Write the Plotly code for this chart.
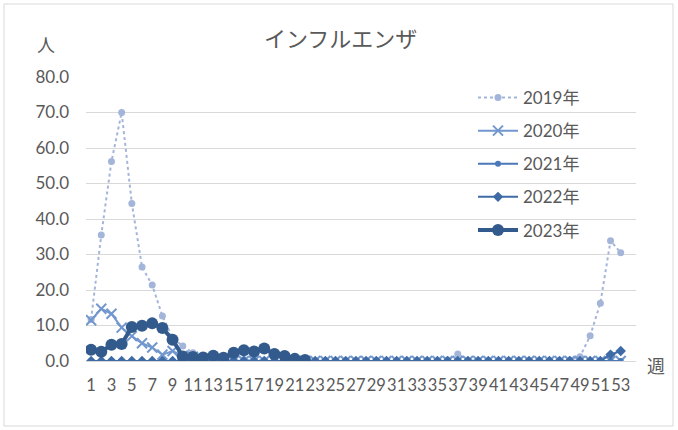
import plotly.graph_objects as go

weeks = list(range(1, 54))

v2019 = [11.7, 35.5, 56.2, 70.0, 44.4, 26.5, 21.4, 12.7, 6.5, 4.2,
         2.3, 1.0, 0.5, 0.6, 2.6, 0.4, 0.2, 0.1, 0.1, 0.1,
         0.0, 0.1, 0.0, 0.0, 0.0, 0.0, 0.0, 0.0, 0.0, 0.0,
         0.0, 0.0, 0.0, 0.0, 0.0, 0.3, 2.0, 0.2, 0.0, 0.0,
         0.0, 0.0, 0.0, 0.0, 0.0, 0.0, 0.1, 0.3, 1.2, 7.1,
         16.3, 33.9, 30.5]
v2020 = [11.5, 14.7, 13.3, 9.4, 7.0, 5.0, 3.8, 1.8, 2.8, 1.5,
         1.2, 0.3, 0.2, 0.1, 0.0, 0.0, 0.0, 0.0, 0.0, 0.0,
         0.0, 0.0, 0.0, 0.0, 0.0, 0.0, 0.0, 0.0, 0.0, 0.0,
         0.0, 0.0, 0.0, 0.0, 0.0, 0.0, 0.0, 0.0, 0.0, 0.0,
         0.0, 0.0, 0.0, 0.0, 0.0, 0.0, 0.0, 0.0, 0.0, 0.0,
         0.0, 0.0, 0.0]
v2021 = [0.0, 0.0, 0.0, 0.0, 0.0, 0.0, 0.0, 0.0, 0.0, 0.0,
         0.0, 0.0, 0.0, 0.0, 0.0, 0.0, 0.0, 0.0, 0.0, 0.0,
         0.0, 0.0, 0.0, 0.0, 0.0, 0.0, 0.0, 0.0, 0.0, 0.0,
         0.0, 0.0, 0.0, 0.0, 0.0, 0.0, 0.0, 0.0, 0.0, 0.0,
         0.0, 0.0, 0.0, 0.0, 0.0, 0.0, 0.0, 0.0, 0.0, 0.0,
         0.0, 0.0, 0.0]
v2022 = [0.0, 0.0, 0.0, 0.0, 0.0, 0.0, 0.0, 0.0, 0.0, 0.0,
         0.0, 0.0, 0.0, 0.0, 0.0, 0.0, 0.0, 0.0, 0.0, 0.0,
         0.0, 0.0, 0.0, 0.0, 0.0, 0.0, 0.0, 0.0, 0.0, 0.0,
         0.0, 0.0, 0.0, 0.0, 0.0, 0.0, 0.0, 0.0, 0.0, 0.0,
         0.0, 0.0, 0.0, 0.0, 0.0, 0.0, 0.0, 0.0, 0.0, 0.0,
         0.0, 1.8, 2.8]
v2023 = [3.2, 2.6, 4.6, 4.8, 9.6, 9.9, 10.6, 9.3, 6.0, 1.3,
         1.1, 1.0, 1.5, 0.9, 2.3, 3.0, 2.7, 3.5, 2.0, 1.4,
         0.6, 0.3]

x_ticks = list(range(1, 54, 2))
y_ticks = [0, 10, 20, 30, 40, 50, 60, 70, 80]

FONT = "Lato, 'Noto Sans CJK JP', sans-serif"
GRAY = "#595959"

fig = go.Figure()
fig.add_trace(go.Scatter(x=weeks, y=v2019, name="2019年", mode="lines+markers",
                         line=dict(color="#A3B5D9", width=2, dash="dot"),
                         marker=dict(symbol="circle", size=7, color="#A3B5D9"),
                         legendgroup="a"))
fig.add_trace(go.Scatter(x=weeks, y=v2020, name="2020年", mode="lines+markers",
                         line=dict(color="#7297CF", width=2),
                         marker=dict(symbol="x-thin", size=10,
                                     line=dict(color="#7297CF", width=2)),
                         legendgroup="b"))
fig.add_trace(go.Scatter(x=weeks, y=v2021, name="2021年", mode="lines+markers",
                         line=dict(color="#4A78B8", width=2),
                         marker=dict(symbol="circle", size=6, color="#4A78B8"),
                         legendgroup="c"))
fig.add_trace(go.Scatter(x=weeks, y=v2022, name="2022年", mode="lines+markers",
                         line=dict(color="#3E6BA6", width=2),
                         marker=dict(symbol="diamond", size=8, color="#3E6BA6"),
                         legendgroup="d"))
fig.add_trace(go.Scatter(x=weeks[:len(v2023)], y=v2023, name="2023年", mode="lines+markers",
                         line=dict(color="#335A8C", width=4),
                         marker=dict(symbol="circle", size=12, color="#335A8C"),
                         legendgroup="e"))

L, R, T, B = 86, 42, 77, 69
W, H = 678, 430
pw, ph = W - L - R, H - T - B

def px(x):
    return (x - L) / pw

def py(y):
    return (H - B - y) / ph

fig.update_layout(
    width=W, height=H,
    margin=dict(l=L, r=R, t=T, b=B),
    paper_bgcolor="white", plot_bgcolor="white",
    font=dict(family=FONT, color=GRAY, size=16),
    showlegend=True,
    legend=dict(x=px(473), y=py(80), xanchor="left", yanchor="top",
                bgcolor="rgba(0,0,0,0)", font=dict(size=17, color=GRAY),
                tracegroupgap=8, itemwidth=40),
    xaxis=dict(range=[0.5, 54.5], tickmode="array", tickvals=x_ticks,
               ticktext=[str(v) for v in x_ticks], showgrid=False,
               zeroline=False, showline=True, linecolor="#D9D9D9",
               ticks="", tickangle=0, tickfont=dict(size=16.5, color=GRAY),
               ticklabelstandoff=9),
    yaxis=dict(range=[0, 80], tickmode="array", tickvals=y_ticks,
               ticktext=["%.1f" % v for v in y_ticks], showgrid=True,
               gridcolor="#D9D9D9", gridwidth=1, zeroline=False,
               ticks="", tickfont=dict(size=17, color=GRAY), ticklabelstandoff=16),
    shapes=[dict(type="rect", xref="paper", yref="paper",
                 x0=px(4), x1=px(673), y0=py(426), y1=py(4),
                 line=dict(color="#D9D9D9", width=1), layer="below")],
    annotations=[
        dict(text="インフルエンザ", xref="paper", yref="paper", x=px(340), y=py(38),
             showarrow=False, font=dict(size=22, color=GRAY), xanchor="center", yanchor="middle"),
        dict(text="人", xref="paper", yref="paper", x=px(46), y=py(45),
             showarrow=False, font=dict(size=18, color=GRAY), xanchor="center", yanchor="middle"),
        dict(text="週", xref="paper", yref="paper", x=px(656), y=py(366),
             showarrow=False, font=dict(size=18, color=GRAY), xanchor="center", yanchor="middle"),
    ],
)

fig.write_html("out.html", config={"displayModeBar": False},
               post_script="document.body.style.margin='0';")
